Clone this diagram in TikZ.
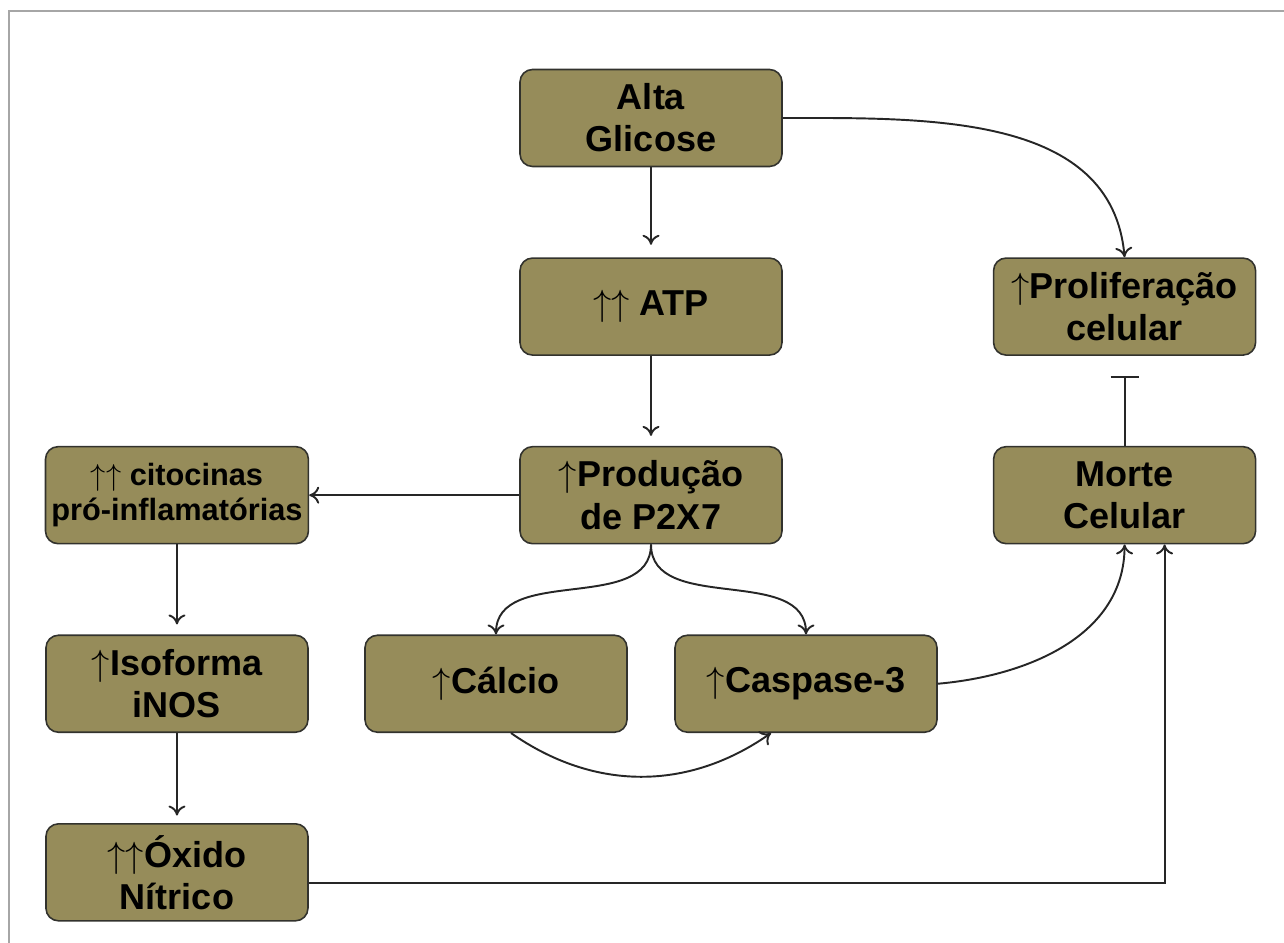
\documentclass[tikz,border=0pt]{standalone}
\usepackage{fontspec}
\setmainfont{Liberation Sans}
\usepackage{tikz}
\usetikzlibrary{positioning}
\usetikzlibrary{arrows.meta}
\usepackage{xcolor}
\definecolor{oliva}{RGB}{150,140,90}
\definecolor{borda}{RGB}{50,50,45}
\newcommand{\sobe}{\ensuremath{\uparrow}}

\begin{document}
\begin{tikzpicture}[
    caixa/.style={rectangle, draw=borda, line width=0.9pt, fill=oliva, rounded corners=0.25cm,
      minimum width=5.24cm, minimum height=1.94cm, align=center,
      font=\bfseries\fontsize{20.5}{24}\selectfont},
    seta/.style={-{To[length=2mm,width=3.4mm]}, line width=1.1pt, black!85},
  ]

    % Page and frame
    \useasboundingbox (0,0) rectangle (25.68,-18.86);
    \draw[gray!70, line width=1.2pt] (0.18,-18.86) |- (25.68,-0.22);

    % Define nodes
    \node[caixa] (glicose) at (13.02,-2.36) {Alta\\Glicose};
    \node[caixa, below=1.8cm of glicose] (atp) {\sobe\sobe{} ATP};
    \node[caixa, below=1.8cm of atp] (p2x7) {\sobe Produção\\de P2X7};
    \node[caixa, right=4.2cm of atp] (prolif) {\sobe Proliferação\\celular};
    \node[caixa, right=4.2cm of p2x7] (morte) {Morte\\Celular};
    \node[caixa, left=4.2cm of p2x7, font=\bfseries\fontsize{17.5}{20}\selectfont] (citocinas) {\sobe\sobe{} citocinas\\pró-inflamatórias};
    \node[caixa, below=1.8cm of citocinas] (isoforma) {\sobe Isoforma\\iNOS};
    \node[caixa, below=1.8cm of isoforma] (oxido) {\sobe\sobe Óxido\\Nítrico};
    \node[caixa, below=1.8cm of p2x7, xshift=-3.1cm] (calcio) {\sobe Cálcio};
    \node[caixa, below=1.8cm of p2x7, xshift=3.1cm] (caspase) {\sobe Caspase-3};

    % Connect the nodes
    \draw[seta, shorten >=0.25cm] (glicose) -- (atp);
    \draw[seta, shorten >=0.2cm] (atp) -- (p2x7);
    \draw[seta] (glicose.east) to[out=0, in=95] (prolif.north);
    \draw[seta] (p2x7) -- (citocinas);
    \draw[seta, shorten >=0.2cm] (citocinas) -- (isoforma);
    \draw[seta, shorten >=0.15cm] (isoforma) -- (oxido);
    \draw[seta] (p2x7.south) to[out=-90, in=90] (calcio.north);
    \draw[seta] (p2x7.south) to[out=-90, in=90] (caspase.north);
    \draw[seta] ([xshift=0.3cm]calcio.south) to[out=-35, in=-145] ([xshift=-0.7cm]caspase.south);
    \draw[seta] (caspase.east) to[out=5, in=-90] (morte.south);
    \draw[seta] ([yshift=-0.22cm]oxido.east) -| ([xshift=0.8cm]morte.south);
    \draw[-{Bar[width=5.6mm]}, line width=1.1pt, black!85, shorten >=0.4cm] (morte) -- (prolif);

\end{tikzpicture}
\end{document}
